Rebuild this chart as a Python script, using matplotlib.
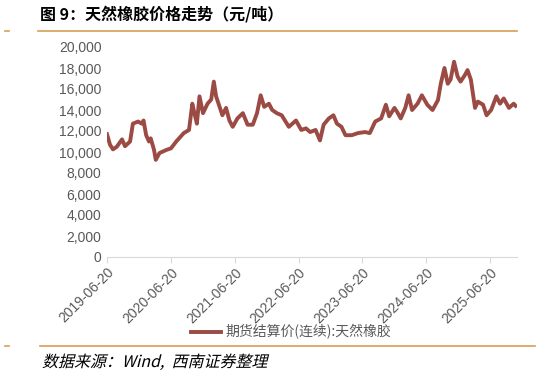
import pandas as pd
import matplotlib.pyplot as plt
import matplotlib.dates as mdates
from matplotlib.ticker import FuncFormatter
from matplotlib.textpath import TextPath
from matplotlib.patches import PathPatch
from matplotlib.font_manager import FontProperties
from matplotlib.transforms import Affine2D

plt.rcParams['font.family'] = ['Liberation Sans', 'Noto Sans CJK SC', 'DejaVu Sans']

# Data (rubber futures settlement price, yuan/ton)
dates = [
    '2019-06-20', '2019-07-07', '2019-07-24', '2019-08-15', '2019-09-14', '2019-10-01',
    '2019-10-30', '2019-11-15', '2019-12-15', '2020-01-05', '2020-01-15', '2020-01-30',
    '2020-02-15', '2020-02-25', '2020-03-15', '2020-03-25', '2020-04-15', '2020-05-25',
    '2020-06-20', '2020-07-20', '2020-09-01', '2020-10-01', '2020-10-20', '2020-11-01',
    '2020-11-15', '2020-11-30', '2020-12-20', '2021-01-15', '2021-02-05', '2021-02-20',
    '2021-03-05', '2021-03-25', '2021-04-10', '2021-05-01', '2021-05-20', '2021-06-08',
    '2021-07-05', '2021-08-05', '2021-09-01', '2021-10-01', '2021-10-25', '2021-11-15',
    '2021-12-05', '2022-01-01', '2022-01-20', '2022-02-15', '2022-03-15', '2022-04-25',
    '2022-06-05', '2022-07-05', '2022-08-01', '2022-08-25', '2022-09-25', '2022-10-20',
    '2022-11-10', '2022-12-10', '2023-01-05', '2023-01-25', '2023-02-20', '2023-03-15',
    '2023-04-20', '2023-05-25', '2023-07-05', '2023-08-01', '2023-09-01', '2023-10-05',
    '2023-11-01', '2023-11-20', '2023-12-20', '2024-01-05', '2024-01-25', '2024-02-20',
    '2024-03-10', '2024-03-30', '2024-04-30', '2024-05-25', '2024-06-25', '2024-07-25',
    '2024-08-25', '2024-09-10', '2024-10-01', '2024-10-20', '2024-11-05', '2024-11-25',
    '2024-12-15', '2025-01-01', '2025-01-25', '2025-02-10', '2025-03-01', '2025-03-25',
    '2025-04-10', '2025-05-10', '2025-05-30', '2025-06-25', '2025-07-25', '2025-08-15',
    '2025-09-05', '2025-10-05', '2025-11-01', '2025-11-12',
]
prices = [
    11700, 10700, 10250, 10500, 11200, 10550,
    11000, 12700, 12900, 12700, 13000, 11600,
    11000, 11300, 10200, 9250, 9900, 10200,
    10350, 11000, 11800, 12100, 14600, 13700,
    12700, 15300, 13700, 14600, 15000, 16700,
    15300, 14300, 13500, 14200, 13000, 12400,
    13200, 13700, 12600, 12600, 13700, 15400,
    14300, 14600, 14000, 13700, 13500, 12400,
    13000, 12100, 12250, 11900, 12100, 11100,
    12600, 13200, 13500, 12700, 12400, 11600,
    11600, 11800, 11900, 11800, 12900, 13200,
    14500, 13400, 14200, 13800, 13200, 14200,
    15400, 14000, 14600, 15400, 14500, 14000,
    14950, 16500, 18000, 16500, 16900, 18600,
    17200, 16700, 17300, 17800, 16900, 14200,
    14800, 14500, 13500, 14000, 15300, 14600,
    15100, 14200, 14600, 14400,
]
tick_labels = ['2019-06-20', '2020-06-20', '2021-06-20', '2022-06-20',
               '2023-06-20', '2024-06-20', '2025-06-20']
series_name = '期货结算价(连续):天然橡胶'

df = pd.DataFrame({'date': pd.to_datetime(dates), 'price': prices})

fig = plt.figure(figsize=(5.41, 3.78), dpi=100)
ax = fig.add_axes([107 / 541, 1 - 257 / 378, (517 - 107) / 541, 210 / 378])

ax.plot(df['date'], df['price'], color='#9C4A44', linewidth=2.8,
        solid_joinstyle='round', label=series_name)

ax.set_ylim(0, 20000)
ax.set_yticks(range(0, 20001, 2000))
ax.yaxis.set_major_formatter(FuncFormatter(lambda v, p: f'{int(v):,}'))
ax.set_xlim(pd.Timestamp('2019-06-20'), pd.Timestamp('2025-11-20'))
ax.set_xticks(pd.to_datetime(tick_labels))
ax.xaxis.set_major_formatter(mdates.DateFormatter('%Y-%m-%d'))

for s in ['top', 'right', 'left']:
    ax.spines[s].set_visible(False)
ax.spines['bottom'].set_color('#D9D9D9')
ax.spines['bottom'].set_linewidth(0.8)
ax.tick_params(axis='y', length=0, labelsize=10, labelcolor='#595959', pad=4)
ax.tick_params(axis='x', length=4, color='#D9D9D9', labelsize=10,
               labelcolor='#595959', pad=2)
plt.setp(ax.get_xticklabels(), rotation=45, ha='right', rotation_mode='anchor')

ax.legend(loc='center', bbox_to_anchor=(291 / 541, 1 - 332 / 378), bbox_transform=fig.transFigure,
          frameon=False, labelcolor='#595959', handlelength=2.2,
          handletextpad=0.3, prop={'family': ['Noto Sans CJK SC'], 'size': 10})

# title, rules and source note
fig.text(40 / 541, 1 - 14 / 378, '图 9：天然橡胶价格走势（元/吨）', fontsize=11.5,
         fontweight='bold', va='center', ha='left',
         family=['Noto Sans CJK SC', 'DejaVu Sans'])
rule = '#D4A056'
fig.add_artist(plt.Line2D([38 / 541, 517 / 541], [1 - 31 / 378] * 2, color=rule, lw=1.2))
fig.add_artist(plt.Line2D([5 / 541, 9 / 541], [1 - 31 / 378] * 2, color=rule, lw=1.2))
fig.add_artist(plt.Line2D([40 / 541, 535 / 541], [1 - 346 / 378] * 2, color=rule, lw=1.2))
fig.add_artist(plt.Line2D([5 / 541, 9 / 541], [1 - 346 / 378] * 2, color=rule, lw=1.2))

# slanted source note (CJK font has no italic, so skew the glyph outlines)
src = TextPath((0, 0), '数据来源：Wind,  西南证券整理',
               prop=FontProperties(family='Noto Sans CJK SC', size=11.5))
src_tr = (Affine2D().skew_deg(14, 0).translate(42 * 0.72, (378 - 367) * 0.72).scale(1 / 72)
          + fig.dpi_scale_trans)
fig.add_artist(PathPatch(src, transform=src_tr, facecolor='black', lw=0))

fig.savefig('out.png', dpi=100)
